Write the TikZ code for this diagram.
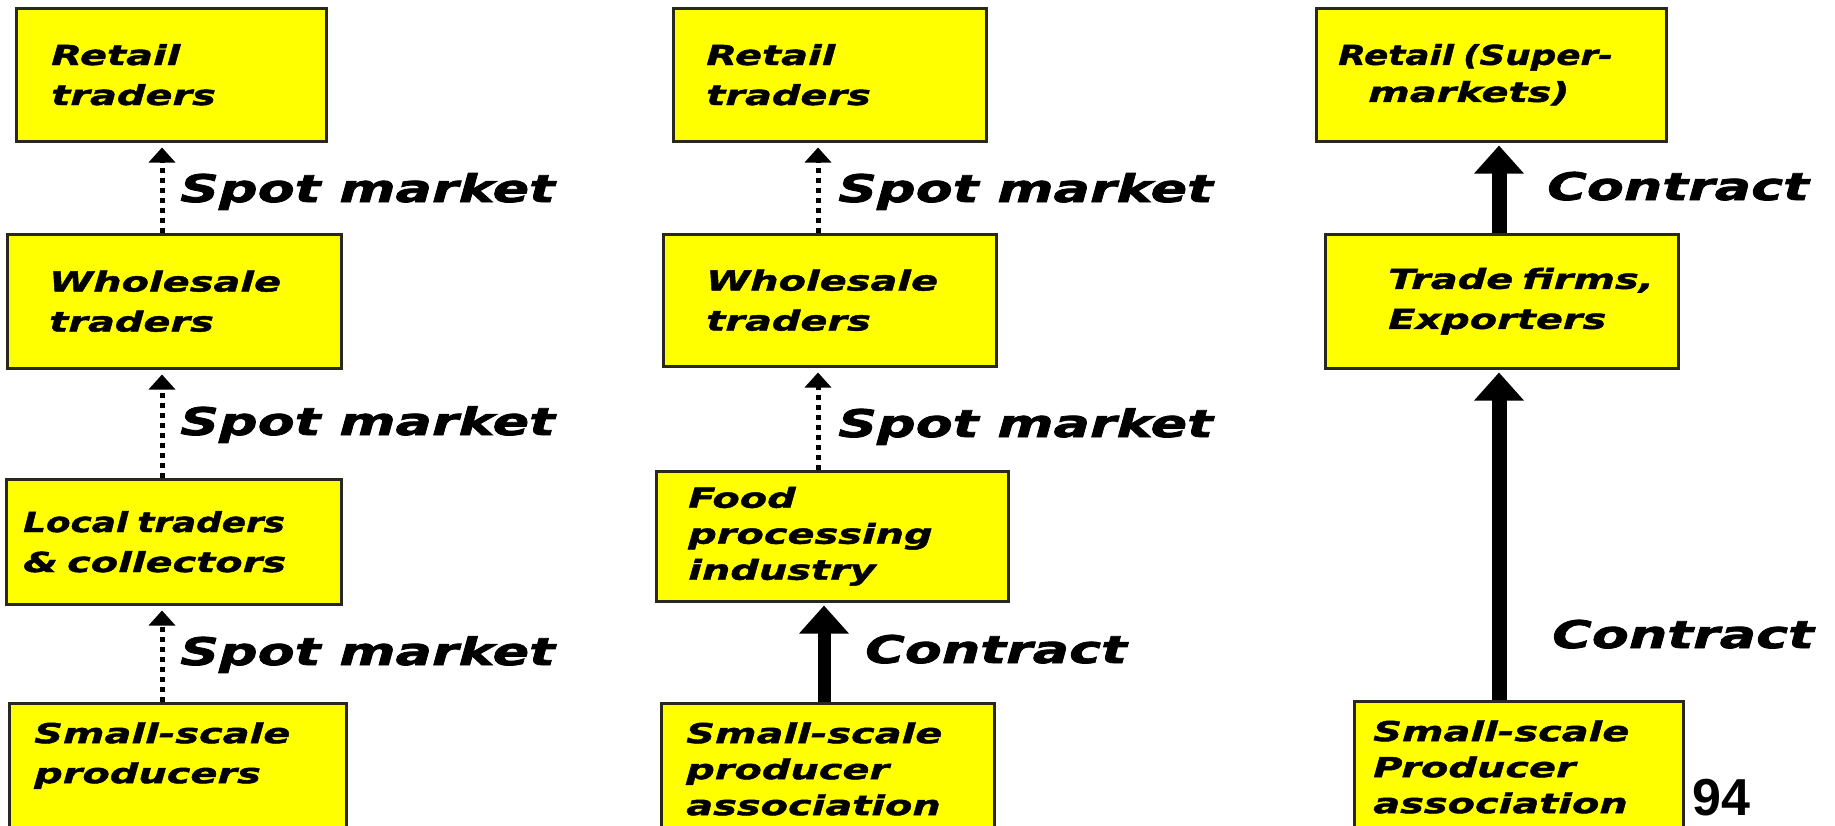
\documentclass[tikz,border=0pt]{standalone}
\usepackage{fontspec}
\usetikzlibrary{arrows.meta}
% extended heavy oblique faces for box texts and link labels
\newfontfamily\boxfont[FakeStretch=1.45,FakeBold=1.6,WordSpace=0.6]{DejaVu Sans Bold Oblique}
\newfontfamily\boxfontnarrow[FakeStretch=1.30,FakeBold=1.6,WordSpace=0.6]{DejaVu Sans Bold Oblique}
\newfontfamily\linkfont[FakeStretch=1.42,FakeBold=2]{DejaVu Sans Bold Oblique}
\newfontfamily\pagefont{Liberation Sans Bold}
\definecolor{boxyellow}{RGB}{255,255,0}
\definecolor{boxline}{RGB}{40,40,30}

\begin{document}
\begin{tikzpicture}[x=1pt,y=-1pt,
  chainbox/.style={draw=boxline, line width=2.5pt, fill=boxyellow,
    anchor=north west, align=left, inner ysep=0pt,
    font=\fontsize{27.5}{40}\boxfont},
  threeline/.style={font=\fontsize{27.5}{36}\boxfont},
  openbottom/.style={inner ysep=19pt, text depth=130pt},
  linklabel/.style={anchor=base west, inner sep=0pt,
    font=\fontsize{38}{40}\linkfont},
  spot/.style={line width=5pt, dash pattern=on 5pt off 5pt,
    -{Triangle[width=26pt,length=15pt]}, shorten >=5pt},
  contract/.style={line width=13pt,
    -{Triangle[width=48pt,length=28pt]}, shorten >=3pt}
]
\clip (0,0) rectangle (1835,825);
\fill[white] (0,0) rectangle (1835,825);

% x positions of the vertical links
\coordinate (c1) at (162,0);
\coordinate (c2s) at (818,0);
\coordinate (c2c) at (824,0);
\coordinate (c3) at (1499,0);

% chain 1: traditional spot-market chain
\node[chainbox, inner xsep=35pt, text width=240pt, minimum height=133pt] (r1) at (15,7)
  {Retail\\traders};
\node[chainbox, inner xsep=42pt, text width=250pt, minimum height=134pt] (w1) at (6,233)
  {Wholesale\\traders};
\node[chainbox, inner xsep=17pt, text width=301pt, minimum height=125pt] (l1) at (5,478)
  {\mbox{\boxfontnarrow Local traders}\\\mbox{\& collectors}};
\node[chainbox, openbottom, inner xsep=25pt, text width=287pt] (p1) at (8,702)
  {\mbox{Small-scale}\\producers};

% chain 2: processing industry
\node[chainbox, inner xsep=33pt, text width=247pt, minimum height=133pt] (r2) at (672,7)
  {Retail\\traders};
\node[chainbox, inner xsep=43pt, text width=247pt, minimum height=132pt] (w2) at (662,233)
  {Wholesale\\traders};
\node[chainbox, threeline, inner xsep=32pt, text width=288pt, minimum height=130pt] (f2) at (655,470)
  {Food\\processing\\industry};
\node[chainbox, threeline, openbottom, inner xsep=25pt, text width=283pt] (p2) at (660,702)
  {\mbox{Small-scale}\\producer\\association};

% chain 3: supermarkets and exporters
\node[chainbox, font=\fontsize{27.5}{37}\boxfont, inner xsep=22pt, text width=306pt, minimum height=133pt] (r3) at (1315,7)
  {\mbox{\boxfontnarrow Retail (Super-}\\\hspace*{30pt}markets)};
\node[chainbox, inner xsep=63pt, text width=227pt, minimum height=134pt] (t3) at (1324,233)
  {\mbox{Trade firms,}\\Exporters};
\node[chainbox, threeline, openbottom, inner xsep=19pt, text width=291pt] (p3) at (1353,700)
  {\mbox{Small-scale}\\Producer\\association};

% links
\draw[spot] (w1.north -| c1) -- (r1.south -| c1);
\draw[spot] (l1.north -| c1) -- (w1.south -| c1);
\draw[spot] (p1.north -| c1) -- (l1.south -| c1);
\draw[spot] (w2.north -| c2s) -- (r2.south -| c2s);
\draw[spot] (f2.north -| c2s) -- (w2.south -| c2s);
\draw[contract] (p2.north -| c2c) -- (f2.south -| c2c);
\draw[contract, line width=15pt] (t3.north -| c3) -- (r3.south -| c3);
\draw[contract, line width=15pt] (p3.north -| c3) -- (t3.south -| c3);

% link labels
\node[linklabel] (s1a) at (180,202) {Spot market};
\node[linklabel] (s1b) at (180,435) {Spot market};
\node[linklabel] (s1c) at (180,665) {Spot market};
\node[linklabel] (s2a) at (838,202) {Spot market};
\node[linklabel] (s2b) at (838,437) {Spot market};
\node[linklabel] (k2) at (865,663) {Contract};
\node[linklabel] (k3a) at (1547,200) {Contract};
\node[linklabel] (k3b) at (1552,648) {Contract};

% page number
\node[anchor=base west, inner sep=0pt, font=\fontsize{52}{52}\pagefont] (pg) at (1692,815) {94};
\end{tikzpicture}
\end{document}
